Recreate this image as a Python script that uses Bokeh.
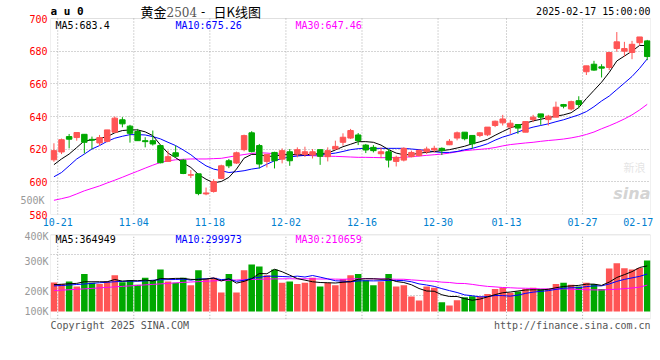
from bokeh.plotting import figure
from bokeh.models import Range1d, FixedTicker, Label, ColumnDataSource, BoxAnnotation, LinearAxis
from bokeh.layouts import column
from bokeh.embed import file_html
from bokeh.resources import INLINE

# ---------------- data ----------------
tick_idx = [0, 10, 20, 30, 40, 50, 59, 69, 78]
tick_labels = ["10-21", "11-04", "11-18", "12-02", "12-16", "12-30", "01-13", "01-27", "02-17"]

opens = [613.5, 618.3, 627.7, 627.1, 629.1, 626.0, 623.8, 624.8, 630.4, 638.0,
         634.1, 630.8, 625.2, 625.2, 622.2, 612.5, 617.8, 613.3, 604.1, 604.9,
         592.6, 594.1, 602.1, 612.9, 611.5, 619.7, 630.0, 622.2, 612.5, 618.0,
         613.9, 618.4, 617.0, 616.8, 616.4, 619.7, 615.4, 620.1, 624.2, 626.8,
         628.7, 622.5, 621.1, 617.2, 618.4, 612.5, 613.3, 615.4, 616.0, 618.4,
         619.5, 620.5, 622.7, 626.8, 630.4, 628.4, 628.4, 628.8, 634.5, 636.1,
         633.5, 635.1, 630.4, 638.1, 641.6, 638.1, 639.6, 647.3, 644.6, 649.7,
         667.4, 672.0, 670.4, 670.0, 681.6, 680.0, 679.2, 685.2, 686.3]
highs = [623.6, 626.5, 629.3, 630.2, 629.1, 627.7, 628.7, 631.8, 640.0, 639.6,
         634.9, 632.4, 627.3, 631.4, 622.6, 619.1, 622.2, 614.0, 607.2, 604.9,
         596.5, 601.6, 610.5, 614.0, 618.5, 628.9, 631.0, 623.2, 616.8, 618.4,
         620.5, 620.1, 621.1, 621.5, 620.1, 619.7, 621.1, 625.2, 629.7, 632.4,
         629.9, 623.2, 622.5, 621.1, 620.1, 616.0, 621.1, 619.1, 619.7, 621.5,
         622.1, 621.1, 626.2, 630.8, 630.4, 628.4, 630.4, 633.5, 637.5, 641.0,
         637.9, 635.1, 636.9, 641.0, 641.6, 641.0, 649.1, 647.7, 649.7, 652.4,
         671.0, 674.1, 672.0, 679.2, 691.7, 685.7, 686.3, 688.7, 686.9]
lows = [612.3, 617.0, 620.5, 625.2, 617.4, 620.0, 622.0, 624.2, 630.4, 633.4,
        624.0, 625.2, 621.1, 622.2, 611.3, 612.5, 615.0, 604.7, 602.3, 591.8,
        591.8, 593.4, 601.6, 608.4, 610.9, 618.7, 618.0, 608.2, 608.8, 608.2,
        611.3, 609.8, 615.0, 615.2, 614.3, 610.4, 612.5, 619.7, 622.1, 626.2,
        622.5, 617.6, 618.0, 614.5, 608.8, 609.4, 612.5, 615.0, 615.6, 617.0,
        618.0, 616.4, 622.5, 625.4, 625.4, 620.3, 627.4, 628.0, 633.5, 634.5,
        629.4, 629.4, 630.4, 636.5, 634.9, 634.5, 639.6, 645.0, 643.6, 645.0,
        665.4, 668.0, 663.9, 668.4, 679.6, 676.7, 675.1, 683.6, 674.5]
closes = [619.1, 625.8, 626.1, 630.2, 624.2, 625.5, 627.1, 631.8, 639.0, 635.5,
          629.7, 625.2, 624.6, 623.2, 611.7, 615.4, 615.6, 605.1, 604.3, 592.8,
          593.2, 600.2, 609.8, 609.8, 617.8, 628.3, 618.5, 610.9, 616.8, 612.9,
          619.1, 612.9, 619.7, 618.4, 618.4, 615.6, 619.1, 621.7, 627.3, 631.4,
          625.2, 619.5, 619.1, 618.4, 613.3, 615.0, 620.5, 618.0, 619.3, 620.1,
          620.5, 619.1, 624.8, 630.0, 626.4, 623.3, 630.0, 633.5, 637.1, 638.5,
          635.9, 632.9, 636.9, 639.6, 639.6, 640.2, 645.7, 646.3, 649.1, 647.3,
          671.0, 668.4, 669.6, 679.2, 685.7, 681.6, 684.2, 688.7, 676.7]

ma5 = [610.5, 614.0, 617.0, 621.0, 625.1, 625.6, 626.5, 627.7, 630.0, 631.4,
       631.8, 631.8, 630.6, 628.3, 622.6, 617.6, 614.8, 611.6, 608.8, 604.5,
       601.6, 599.4, 600.2, 602.7, 607.8, 614.5, 616.8, 616.8, 615.5, 615.8,
       616.4, 616.8, 616.6, 616.5, 617.0, 617.3, 617.6, 619.5, 621.5, 623.0,
       624.6, 624.6, 624.2, 622.5, 619.7, 617.6, 616.6, 616.6, 617.6, 618.0,
       618.6, 619.1, 619.7, 620.7, 621.8, 623.3, 624.5, 626.0, 628.5, 630.8,
       633.0, 634.5, 635.9, 637.3, 638.3, 639.3, 640.2, 641.0, 642.3, 645.5,
       651.0, 656.0, 661.0, 667.0, 674.0, 677.0, 680.0, 683.5, 683.4]
ma10 = [603.1, 605.7, 609.8, 614.0, 617.0, 620.1, 622.2, 624.8, 626.7, 627.9,
        628.9, 628.9, 628.7, 627.7, 626.3, 624.2, 622.2, 619.5, 616.6, 612.9,
        609.8, 607.8, 606.8, 605.7, 606.2, 606.8, 607.8, 608.5, 610.8, 612.9,
        614.3, 615.2, 615.8, 616.2, 616.4, 616.6, 617.0, 617.6, 618.6, 619.7,
        620.3, 620.5, 620.5, 620.5, 620.5, 620.5, 620.5, 620.1, 619.7, 619.1,
        618.4, 618.0, 618.0, 618.6, 619.6, 620.5, 621.8, 623.3, 625.5, 627.4,
        628.8, 630.5, 632.2, 633.5, 634.5, 635.5, 636.8, 638.0, 639.5, 641.0,
        643.0, 646.0, 649.5, 652.5, 656.5, 660.5, 664.5, 669.5, 675.26]
ma30 = [588.7, 589.7, 590.8, 592.6, 594.5, 596.0, 597.5, 599.3, 601.0, 602.8,
        604.7, 606.5, 608.4, 610.2, 611.9, 612.8, 613.5, 613.8, 614.0, 614.0,
        614.0, 614.2, 614.4, 615.2, 616.0, 616.7, 617.4, 617.8, 617.6, 617.2,
        616.8, 616.6, 616.4, 616.2, 616.0, 615.8, 615.7, 615.6, 615.4, 615.2,
        615.0, 615.0, 614.9, 614.8, 614.8, 614.8, 615.0, 615.4, 615.8, 616.2,
        616.6, 617.0, 617.6, 618.4, 619.1, 619.5, 619.9, 620.3, 621.0, 622.0,
        622.8, 623.3, 623.8, 624.2, 624.8, 625.3, 625.7, 626.2, 626.9, 627.8,
        629.0, 630.5, 632.5, 634.3, 636.3, 638.5, 641.0, 644.0, 647.46]

# volume, thousands of lots (K)
volumes = [232, 220, 240, 200, 300, 230, 220, 240, 290, 235,
           250, 215, 270, 250, 336, 240, 230, 270, 210, 330,
           260, 270, 152, 300, 152, 330, 376, 360, 290, 336,
           230, 240, 220, 230, 270, 200, 230, 210, 260, 290,
           300, 250, 210, 240, 300, 200, 210, 120, 88, 200,
           190, 74, 48, 90, 114, 122, 120, 140, 180, 190,
           150, 160, 180, 190, 180, 180, 220, 230, 215, 200,
           230, 220, 180, 344, 386, 347, 336, 348, 408]
vma5 = [215, 218, 222, 225, 238, 238, 238, 238, 256, 243,
        247, 246, 252, 244, 264, 262, 265, 265, 257, 256,
        260, 268, 244, 262, 227, 241, 262, 304, 302, 338,
        318, 291, 263, 251, 238, 232, 230, 228, 234, 238,
        258, 262, 262, 258, 260, 240, 232, 214, 184, 164,
        162, 134, 120, 120, 103, 90, 99, 117, 135, 150,
        156, 164, 172, 174, 172, 178, 190, 200, 205, 209,
        219, 219, 209, 235, 272, 295, 319, 352, 364.9]
vma10 = [205, 208, 212, 216, 220, 225, 230, 234, 238, 241,
         243, 242, 245, 250, 254, 255, 256, 259, 251, 260,
         261, 267, 255, 260, 241, 250, 265, 274, 282, 283,
         280, 277, 283, 276, 288, 275, 261, 246, 243, 238,
         245, 246, 245, 246, 249, 249, 247, 238, 221, 212,
         201, 183, 167, 152, 133, 126, 117, 119, 128, 127,
         123, 131, 145, 155, 161, 167, 177, 186, 190, 191,
         199, 205, 205, 220, 241, 257, 269, 281, 300.0]
vma30 = [168, 171, 174, 178, 181, 185, 189, 193, 197, 201,
         205, 209, 213, 217, 221, 225, 229, 233, 236, 239,
         242, 245, 248, 250, 252, 254, 256, 258, 260, 261,
         261, 262, 261, 262, 261, 260, 260, 259, 258, 260,
         262, 263, 261, 261, 260, 258, 258, 253, 249, 244,
         242, 235, 232, 225, 224, 217, 208, 201, 197, 192,
         190, 187, 186, 184, 181, 181, 180, 181, 179, 176,
         174, 173, 172, 176, 178, 183, 188, 195, 210.7]

# ---------------- styles / geometry ----------------
RED = "#ff5555"
GREEN = "#00a800"
MONO = "DejaVu Sans Mono"
GRID = "#aaaaaa"
FRAME = "#999999"

W = 655
LEFT, RIGHT = 50, 5
XR = (-0.45, 78.43)
PX_PER_X = (W - LEFT - RIGHT) / (XR[1] - XR[0])
def px2x(px):
    return XR[0] + (px - LEFT) / PX_PER_X

# price panel: canvas 0..230, frame 0..214, 580 at bottom
P_H, P_BOT = 230, 16
P_FRAME = P_H - P_BOT
P_SCALE = 196.0 / 120.0          # px per price unit
P_TOP = 580 + P_FRAME / P_SCALE
def py2p(py):
    return 580 + (P_FRAME - py) / P_SCALE

# volume panel: canvas 230..345 (frame fills canvas); zero at y=311, 8K per px
V_Y0, V_H = 230, 115
V_ZERO_Y, V_K_PER_PX = 311.0, 8.0
def py2v(py):
    return (V_ZERO_Y - (py - V_Y0) - V_Y0) * V_K_PER_PX
V_RANGE = (py2v(V_Y0 + V_H), py2v(V_Y0))
V_BOX = (py2v(318.3), py2v(234.3))

n = len(closes)
idx = list(range(n))
cols = [RED if c >= o else GREEN for o, c in zip(opens, closes)]
src = ColumnDataSource(dict(
    x=idx, h=highs, l=lows,
    top=[max(o, c) for o, c in zip(opens, closes)],
    bot=[min(o, c) for o, c in zip(opens, closes)],
    col=cols, vol=volumes,
    ma5=ma5, ma10=ma10, ma30=ma30, vma5=vma5, vma10=vma10, vma30=vma30))

grid_pos = [i + 0.5 for i in tick_idx[:-1]]
label_pos = grid_pos + [XR[1] - 1.6]

def style_axis(ax, color):
    ax.major_label_text_color = color
    ax.major_label_text_font = MONO
    ax.major_label_text_font_size = "10px"
    ax.major_tick_out = 0
    ax.major_tick_in = 0
    ax.minor_tick_out = 0
    ax.minor_tick_in = 0
    ax.axis_line_color = None

def lab(fig, x, y, text, color, size="10px", font=MONO, style="normal", align="left", alpha=1.0):
    fig.add_layout(Label(x=x, y=y, text=text, text_color=color, text_font=font,
                         text_font_size=size, text_font_style=style, text_align=align,
                         text_baseline="middle", text_alpha=alpha))

# ---------------- price panel ----------------
p = figure(width=W, height=P_H, x_range=Range1d(*XR), y_range=Range1d(580, P_TOP),
           output_backend="svg", toolbar_location=None,
           min_border_left=LEFT, min_border_right=RIGHT, min_border_top=0, min_border_bottom=P_BOT)
p.outline_line_color = None
p.xgrid.visible = False

p.yaxis.ticker = FixedTicker(ticks=[580, 600, 620, 640, 660, 680, 700])
style_axis(p.yaxis[0], "#ff0000")
p.yaxis.major_label_standoff = 3

# stray volume-scale label that sits beside the price axis in the original
y500 = py2p(200)
ax500 = LinearAxis(ticker=FixedTicker(ticks=[y500]), major_label_overrides={y500: "500K"})
style_axis(ax500, "#999999")
ax500.major_label_standoff = -18
p.add_layout(ax500, "left")

p.xaxis.ticker = FixedTicker(ticks=label_pos)
p.xaxis.major_label_overrides = {pos: lab_ for pos, lab_ in zip(label_pos, tick_labels)}
style_axis(p.xaxis[0], "#0080d0")
p.xaxis.major_label_standoff = 3

p.ygrid.ticker = FixedTicker(ticks=[600, 620, 640, 660, 680])
p.ygrid.grid_line_color = GRID
p.ygrid.grid_line_dash = "1 2"
p.segment(x0=grid_pos, y0=[580] * len(grid_pos), x1=grid_pos, y1=[700] * len(grid_pos),
          line_color=GRID, line_dash="1 2", line_width=1)
p.add_layout(BoxAnnotation(left=XR[0], right=XR[1], bottom=580, top=700,
                           fill_alpha=0, line_color=FRAME, line_width=1))

p.line("x", "ma30", source=src, color="#ff00ff", line_width=1)
p.line("x", "ma10", source=src, color="#0000ff", line_width=1)
p.line("x", "ma5", source=src, color="#000000", line_width=1)
p.segment("x", "h", "x", "l", source=src, color="col", line_width=1)
p.vbar(x="x", top="top", bottom="bot", width=0.72, source=src,
       fill_color="col", line_color="col")

yh = py2p(11)
lab(p, px2x(55), py2p(25), "MA5:683.4", "#000000")
lab(p, px2x(175), py2p(25), "MA10:675.26", "#0000ff")
lab(p, px2x(295), py2p(25), "MA30:647.46", "#ff00ff")
lab(p, px2x(50), yh, "a u 0", "#000000", size="11px", style="bold")
lab(p, px2x(140), yh, "黄金", "#000000", size="13px", font="Noto Sans CJK SC")
lab(p, px2x(166), yh, "2504", "#555555", size="12px", font="DejaVu Serif")
lab(p, px2x(199), yh, "-", "#000000", size="12px")
lab(p, px2x(213), yh, "日K线图", "#000000", size="13px", font="Noto Sans CJK SC")
lab(p, XR[1], yh, "2025-02-17 15:00:00", "#000000", align="right")
lab(p, XR[1], py2p(193), "sina", "#c8c8c8", size="16px", font="DejaVu Sans", style="bold italic", align="right", alpha=0.8)
lab(p, px2x(645), py2p(166), "新浪", "#dddddd", size="11px", font="Noto Sans CJK SC", align="right", alpha=0.8)

# ---------------- volume panel ----------------
v = figure(width=W, height=V_H, x_range=p.x_range, y_range=Range1d(*V_RANGE),
           output_backend="svg", toolbar_location=None,
           min_border_left=LEFT, min_border_right=RIGHT, min_border_top=0, min_border_bottom=0)
v.outline_line_color = None
v.xaxis.visible = False
v.xgrid.visible = False
vt = [py2v(231), py2v(260.7), py2v(291), py2v(310.7)]
v.yaxis.ticker = FixedTicker(ticks=vt)
v.yaxis.major_label_overrides = dict(zip(vt, ["400K", "300K", "200K", "100K"]))
style_axis(v.yaxis[0], "#999999")
v.yaxis.major_label_standoff = 2
v.ygrid.ticker = FixedTicker(ticks=[py2v(254.3), py2v(295)])
v.ygrid.grid_line_color = GRID
v.ygrid.grid_line_dash = "1 2"
v.segment(x0=grid_pos, y0=[V_BOX[0]] * len(grid_pos), x1=grid_pos, y1=[V_BOX[1]] * len(grid_pos),
          line_color=GRID, line_dash="1 2", line_width=1)
v.add_layout(BoxAnnotation(left=XR[0], right=XR[1], bottom=V_BOX[0], top=V_BOX[1],
                           fill_alpha=0, line_color=FRAME, line_width=1))

v.vbar(x="x", top="vol", bottom=0, width=0.86, source=src, fill_color="col", line_color=None)
v.line("x", "vma30", source=src, color="#ff00ff", line_width=1)
v.line("x", "vma10", source=src, color="#0000ff", line_width=1)
v.line("x", "vma5", source=src, color="#000000", line_width=1)

lab(v, px2x(55), py2v(239), "MA5:364949", "#000000")
lab(v, px2x(175), py2v(239), "MA10:299973", "#0000ff")
lab(v, px2x(295), py2v(239), "MA30:210659", "#ff00ff")
lab(v, XR[0], py2v(324.5), "Copyright 2025 SINA.COM", "#555555", size="10px")
lab(v, XR[1], py2v(324.5), "http://finance.sina.com.cn", "#555555", size="10px", align="right")

layout = column(p, v, spacing=0)
open("out.html", "w").write(file_html(layout, INLINE))
